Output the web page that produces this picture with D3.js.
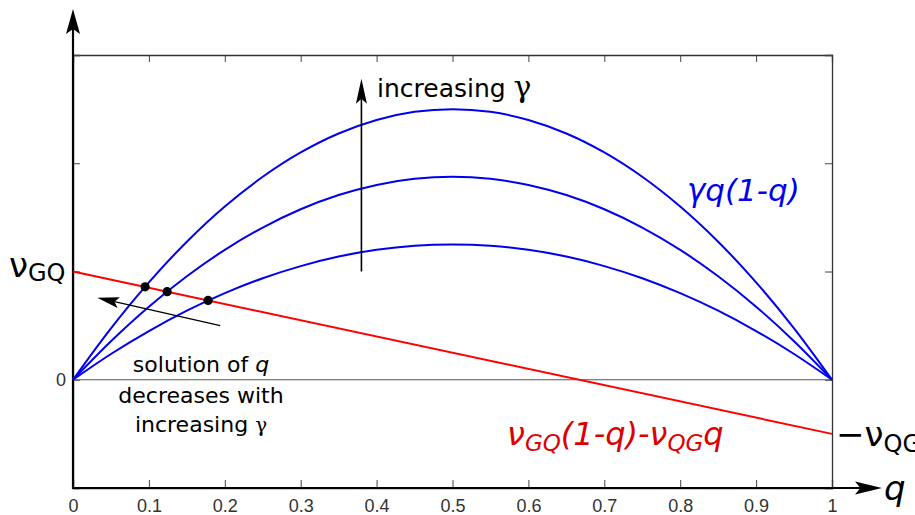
<!DOCTYPE html>
<html>
<head>
<meta charset="utf-8">
<script src="https://cdn.jsdelivr.net/npm/d3@7"></script>
<style>
  body { margin: 0; background: #fff; }
  svg { display: block; }
  .tick text { font-size: 18px; font-family: "Liberation Sans", Arial, sans-serif; fill: #333; }
</style>
</head>
<body>
<script>
// values
let qs = [0, 0.05, 0.1, 0.15, 0.2, 0.25, 0.3, 0.35, 0.4, 0.45, 0.5, 0.55, 0.6, 0.65, 0.7, 0.75, 0.8, 0.85, 0.9, 0.95, 1]
let curveHigh = [0, 0.475, 0.9, 1.275, 1.6, 1.875, 2.1, 2.275, 2.4, 2.475, 2.5, 2.475, 2.4, 2.275, 2.1, 1.875, 1.6, 1.275, 0.9, 0.475, 0]
let curveMid = [0, 0.356, 0.675, 0.956, 1.2, 1.406, 1.575, 1.706, 1.8, 1.856, 1.875, 1.856, 1.8, 1.706, 1.575, 1.406, 1.2, 0.956, 0.675, 0.356, 0]
let curveLow = [0, 0.238, 0.45, 0.638, 0.8, 0.938, 1.05, 1.138, 1.2, 1.238, 1.25, 1.238, 1.2, 1.138, 1.05, 0.938, 0.8, 0.638, 0.45, 0.238, 0]
let lineQ = [0, 1]
let lineV = [1, -0.5]
let dotQ = [0.095, 0.124, 0.178]
let dotV = [0.858, 0.814, 0.733]
let xTicks = [0, 0.1, 0.2, 0.3, 0.4, 0.5, 0.6, 0.7, 0.8, 0.9, 1]
let yTicks = [-1, 0, 1, 2, 3]

let W = 915, H = 515
let x = d3.scaleLinear().domain([0, 1]).range([73, 832])
let y = d3.scaleLinear().domain([-1, 3]).range([488, 55])

let svg = d3.select('body').append('svg')
    .attr('width', W)
    .attr('height', H)
    .style('font-family', '"DejaVu Sans", Verdana, sans-serif')

// box + ticks
let tickFmt = d => d === 0 ? '0' : d === 1 ? '1' : d3.format('.1f')(d)

let gb = svg.append('g').attr('transform', 'translate(0,' + y(-1) + ')')
    .call(d3.axisBottom(x).tickValues(xTicks).tickSize(-8).tickFormat(tickFmt))
gb.selectAll('text')
    .attr('y', 24).attr('dy', 0)

let gt = svg.append('g').attr('transform', 'translate(0,' + y(3) + ')')
    .call(d3.axisTop(x).tickValues(xTicks).tickSize(-7).tickFormat(''))

let gl = svg.append('g').attr('transform', 'translate(' + x(0) + ',0)')
    .call(d3.axisLeft(y).tickValues(yTicks).tickSize(-7).tickPadding(7).tickFormat(d => d === 0 ? '0' : ''))

let gr = svg.append('g').attr('transform', 'translate(' + x(1) + ',0)')
    .call(d3.axisRight(y).tickValues(yTicks).tickSize(-7).tickFormat(''))

svg.selectAll('.domain').attr('stroke', '#333').attr('stroke-width', 1.3)
svg.selectAll('.tick line').attr('stroke', '#444')

// zero line
svg.append('line')
    .attr('x1', x(0)).attr('x2', x(1))
    .attr('y1', y(0)).attr('y2', y(0))
    .attr('stroke', '#555').attr('stroke-width', 1.2)

// arrow helper
function arrow(x1, y1, x2, y2, len, half, w) {
    let a = Math.atan2(y2 - y1, x2 - x1)
    let ux = Math.cos(a), uy = Math.sin(a)
    let bx = x2 - ux * len, by = y2 - uy * len
    let nx = -uy, ny = ux
    let ix = x2 - ux * len * 0.8, iy = y2 - uy * len * 0.8
    svg.append('line')
        .attr('x1', x1).attr('y1', y1).attr('x2', ix).attr('y2', iy)
        .attr('stroke', '#000').attr('stroke-width', w)
    svg.append('path')
        .attr('d', 'M' + x2 + ',' + y2 +
            'L' + (bx + nx * half) + ',' + (by + ny * half) +
            'L' + ix + ',' + iy +
            'L' + (bx - nx * half) + ',' + (by - ny * half) + 'Z')
        .attr('fill', '#000')
}

// main axes with arrows
arrow(x(0), y(-1) + 1, x(0), 9, 25, 7, 2.2)
arrow(x(0) - 1, y(-1), 882, y(-1), 27, 6.5, 2.2)

let line = d3.line().x(d => x(d[0])).y(d => y(d[1])).curve(d3.curveCatmullRom)

let curves = [curveLow, curveMid, curveHigh]
svg.selectAll('.gamma')
    .data(curves)
    .enter()
    .append('path')
    .attr('class', 'gamma')
    .attr('d', c => line(qs.map((q, i) => [q, c[i]])))
    .attr('fill', 'none')
    .attr('stroke', '#0000ee')
    .attr('stroke-width', 2)

svg.append('path')
    .attr('d', d3.line().x(d => x(d[0])).y(d => y(d[1]))(lineQ.map((q, i) => [q, lineV[i]])))
    .attr('fill', 'none')
    .attr('stroke', '#ff0000')
    .attr('stroke-width', 2)

svg.selectAll('.dot')
    .data(dotQ)
    .enter()
    .append('circle')
    .attr('cx', d => x(d))
    .attr('cy', (d, i) => y(dotV[i]))
    .attr('r', 4.6)
    .attr('fill', '#000')

// annotation arrows
arrow(x(0.38), y(1), x(0.38), y(2.78), 25, 5.5, 1.6)
arrow(x(0.194), y(0.5), x(0.032), y(0.757), 22, 5.5, 1.4)

// labels
let inc = svg.append('text')
    .attr('x', 377).attr('y', 97)
    .style('font-size', '25px')
inc.append('tspan').text('increasing ')
inc.append('tspan').style('font-family', '"DejaVu Serif", serif').style('font-size', '30px').text('γ')

let sol = svg.append('text')
    .attr('text-anchor', 'middle')
    .style('font-size', '22px')
sol.append('tspan').attr('x', 201).attr('y', 372).text('solution of ')
sol.append('tspan').style('font-style', 'italic').text('q')
sol.append('tspan').attr('x', 201).attr('y', 403).text('decreases with')
sol.append('tspan').attr('x', 201).attr('y', 432).text('increasing ')
sol.append('tspan').style('font-family', '"DejaVu Serif", serif').style('font-size', '20px').text('γ')

svg.append('text')
    .attr('x', 687).attr('y', 201)
    .attr('fill', '#0000ee')
    .style('font-size', '31px')
    .style('font-style', 'italic')
    .text('γq(1-q)')

let red = svg.append('text')
    .attr('x', 507).attr('y', 445)
    .attr('fill', '#dd0000')
    .style('font-size', '32px')
    .style('font-style', 'italic')
red.append('tspan').text('ν')
red.append('tspan').attr('dy', 6).style('font-size', '23px').text('GQ')
red.append('tspan').attr('dy', -6).text('(1-q)-ν')
red.append('tspan').attr('dy', 6).style('font-size', '23px').text('QG')
red.append('tspan').attr('dy', -6).text('q')

let nuGQ = svg.append('text')
    .attr('x', 9).attr('y', 277)
    .style('font-size', '34px')
nuGQ.append('tspan').text('ν')
nuGQ.append('tspan').attr('dy', 4).style('font-size', '24px').text('GQ')

let nuQG = svg.append('text')
    .attr('x', 836).attr('y', 446)
    .style('font-size', '34px')
nuQG.append('tspan').text('−ν')
nuQG.append('tspan').attr('dy', 6).style('font-size', '24px').text('QG')

svg.append('text')
    .attr('x', 884).attr('y', 500)
    .style('font-size', '34px')
    .style('font-style', 'italic')
    .text('q')
</script>
</body>
</html>
